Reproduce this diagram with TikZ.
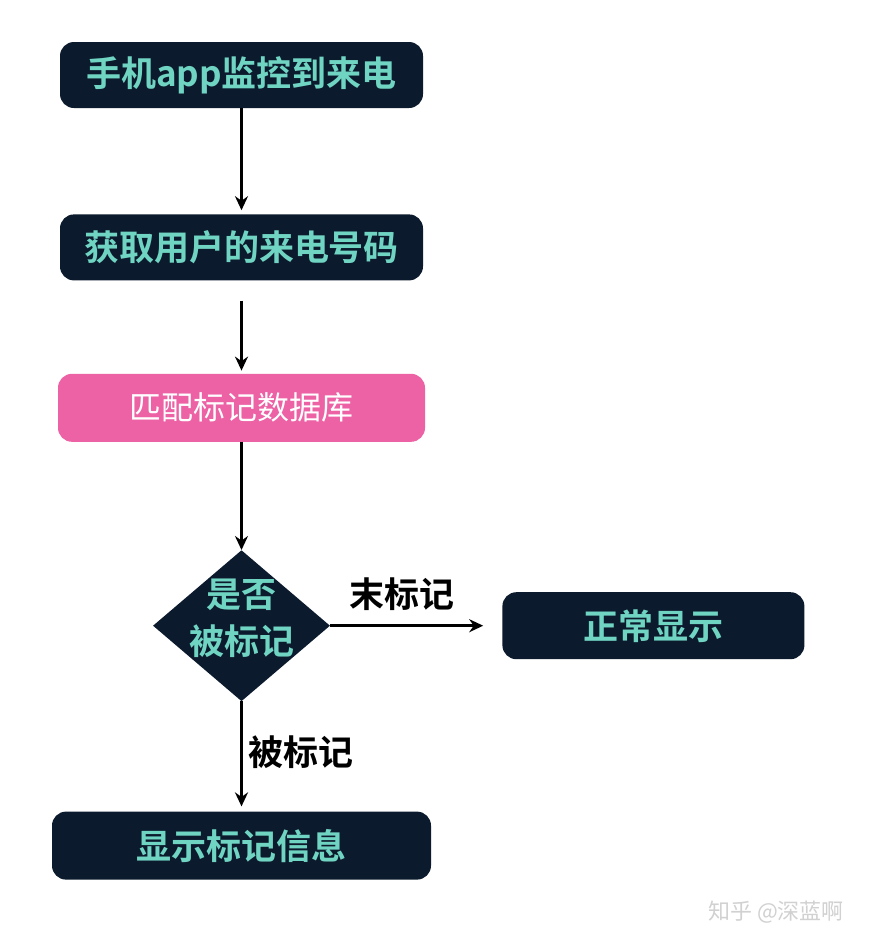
\documentclass[tikz,border=0pt]{standalone}
\usepackage{fontspec}
\setmainfont{Noto Sans CJK SC}[BoldFont={Noto Sans CJK SC Bold}]
\usetikzlibrary{positioning, arrows.meta, shapes.geometric}
\definecolor{navy}{HTML}{0C1A2E}
\definecolor{mint}{HTML}{70D4C2}
\definecolor{rose}{HTML}{EC62A5}
\tikzset{
    stage dark/.style={rectangle, rounded corners=14pt, fill=navy, text=mint, minimum width=363pt, minimum height=66pt, align=center, font=\fontsize{35}{40}\selectfont\bfseries},
    stage pink/.style={rectangle, rounded corners=14pt, fill=rose, text=white, minimum width=367pt, minimum height=68pt, align=center, font=\fontsize{32}{38}\selectfont},
    decision/.style={diamond, fill=navy, inner sep=0pt, minimum width=177pt, minimum height=151pt},
    decision text/.style={text=mint, align=center, font=\fontsize{35}{47}\selectfont\bfseries},
    flow/.style={-{Stealth[length=14pt, width=13pt]}, line width=2.6pt, draw=black},
    edge text/.style={font=\fontsize{35}{40}\selectfont\bfseries, text=black},
}

\begin{document}
\begin{tikzpicture}
\useasboundingbox[fill=white] (0,0) rectangle (878pt,-948pt);
\node[stage dark] (call) at (241.5pt,-75pt) {手机app监控到来电};
\node[stage dark, below=106pt of call] (num) {获取用户的来电号码};
\node[stage pink, below=93pt of num] (db) {匹配标记数据库};
\node[decision, below=108pt of db] (q) {};
\node[decision text] (qtext) at ([yshift=7pt]q.center) {是否\\被标记};
\node[stage dark, minimum width=302pt, minimum height=67pt, right=172pt of q] (normal) {正常显示};
\node[stage dark, minimum width=379pt, minimum height=68pt, below=110pt of q] (show) {显示标记信息};
\draw[flow, shorten >=4pt] (call) -- (num);
\draw[flow, shorten <=20pt, shorten >=3pt] (num) -- (db);
\draw[flow] (db) -- (q);
\draw[flow, shorten >=19pt] (q) -- node[edge text, above=10pt, xshift=-14pt] (nomark) {末标记} (normal);
\draw[flow, shorten >=5pt] (q) -- node[edge text, right=2pt, yshift=4pt] (marked) {被标记} (show);
\node[text=black!18, font=\fontsize{22}{26}\selectfont] (mark) at (776pt,-912pt) {知乎 @深蓝啊};
\end{tikzpicture}
\end{document}
